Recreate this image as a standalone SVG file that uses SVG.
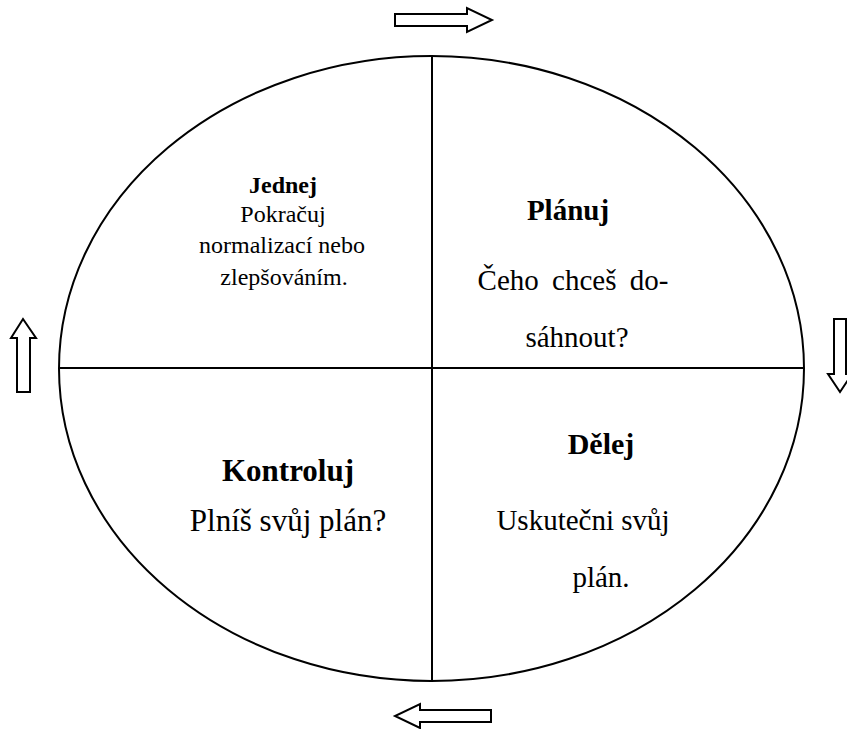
<svg xmlns="http://www.w3.org/2000/svg" width="847" height="729" viewBox="0 0 847 729">
<style>
.ln{fill:none;stroke:#000;stroke-width:2}
.ar{fill:#fff;stroke:#000;stroke-width:2;stroke-linejoin:miter}
.t{font-family:"Liberation Serif","Times New Roman",serif;fill:#000;text-anchor:middle}
.b{font-weight:bold}
</style>
<rect width="847" height="729" fill="#fff"/>
<g id="connectors">
<ellipse class="ln" cx="431.5" cy="368.5" rx="372.5" ry="312.5"/>
<line class="ln" x1="432" y1="56" x2="432" y2="681"/>
<line class="ln" x1="59" y1="368" x2="804" y2="368"/>
<polygon class="ar" points="395,14 467,14 467,8 492,20 467,32 467,26 395,26"/>
<polygon class="ar" points="834,319 846,319 846,374 852,374 840,392 828,374 834,374"/>
<polygon class="ar" points="491,710 420,710 420,704 395,716 420,728 420,722 491,722"/>
<polygon class="ar" points="17,392 17,338 11,338 23,319 36,338 30,338 30,392"/>
</g>
<g id="jednej">
<text class="t b" x="283" y="193" font-size="24">Jednej</text>
<text class="t" x="283" y="222" font-size="24">Pokračuj</text>
<text class="t" x="282" y="253" font-size="24">normalizací nebo</text>
<text class="t" x="284" y="285" font-size="24">zlepšováním.</text>
</g>
<g id="planuj">
<text class="t b" x="568" y="220" font-size="29">Plánuj</text>
<text class="t" x="573" y="290" font-size="29" word-spacing="6">Čeho chceš do-</text>
<text class="t" x="577" y="347" font-size="29">sáhnout?</text>
</g>
<g id="delej">
<text class="t b" x="601" y="454" font-size="30">Dělej</text>
<text class="t" x="583" y="530" font-size="29">Uskutečni svůj</text>
<text class="t" x="601" y="587" font-size="29">plán.</text>
</g>
<g id="kontroluj">
<text class="t b" x="288" y="481" font-size="31">Kontroluj</text>
<text class="t" x="288" y="531" font-size="31">Plníš svůj plán?</text>
</g>
</svg>
